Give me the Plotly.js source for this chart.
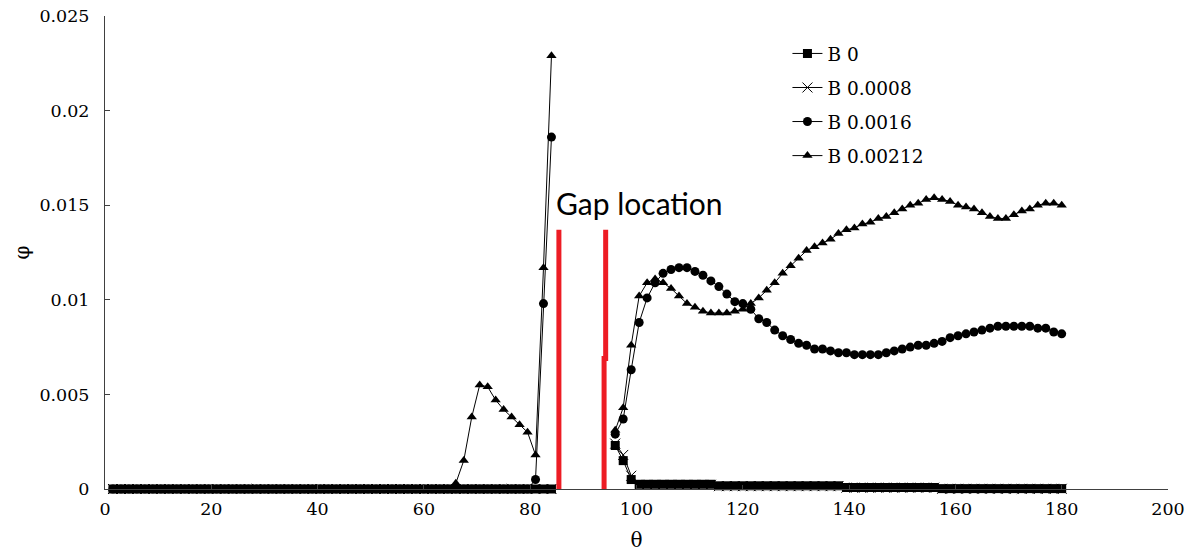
<!DOCTYPE html>
<html>
<head>
<meta charset="utf-8">
<script src="https://cdn.plot.ly/plotly-3.0.1.min.js"></script>
<style>html,body{margin:0;padding:0;background:#fff;}#chart{width:1192px;height:557px;}</style>
</head>
<body>
<div id="chart"></div>
<script>
// theta grid, left of the gap and right of the gap
const thetaLeft = [1.5,3,4.5,6,7.5,9,10.5,12,13.5,15,16.5,18,19.5,21,22.5,24,25.5,27,28.5,30,31.5,33,34.5,36,37.5,39,40.5,42,43.5,45,46.5,48,49.5,51,52.5,54,55.5,57,58.5,60,61.5,63,64.5,66,67.5,69,70.5,72,73.5,75,76.5,78,79.5,81,82.5,84];
const thetaRight = [96,97.5,99,100.5,102,103.5,105,106.5,108,109.5,111,112.5,114,115.5,117,118.5,120,121.5,123,124.5,126,127.5,129,130.5,132,133.5,135,136.5,138,139.5,141,142.5,144,145.5,147,148.5,150,151.5,153,154.5,156,157.5,159,160.5,162,163.5,165,166.5,168,169.5,171,172.5,174,175.5,177,178.5,180];

// B 0
const b0Left = [0,0,0,0,0,0,0,0,0,0,0,0,0,0,0,0,0,0,0,0,0,0,0,0,0,0,0,0,0,0,0,0,0,0,0,0,0,0,0,0,0,0,0,0,0,0,0,0,0,0,0,0,0,0,0,0];
const b0Right = [0.0023,0.0015,0.0005,
  0.00025,0.00025,0.00025,0.00025,0.00025,0.00025,0.00025,0.00025,0.00025,0.00025,
  0.00017,0.00017,0.00017,0.00017,0.00017,0.00017,0.00017,0.00017,0.00017,0.00017,0.00017,0.00017,0.00017,0.00017,0.00017,0.00017,
  0.00008,0.00008,0.00008,0.00008,0.00008,0.00008,0.00008,0.00008,0.00008,0.00008,0.00008,0.00008,
  0.00002,0.00002,0.00002,0.00002,0.00002,0.00002,0.00002,0.00002,0.00002,0.00002,0.00002,0.00002,0.00002,0.00002,0.00002,0.00002];

// B 0.0008
const b1Left = [0,0,0,0,0,0,0,0,0,0,0,0,0,0,0,0,0,0,0,0,0,0,0,0,0,0,0,0,0,0,0,0,0,0,0,0,0,0,0,0,0,0,0,0,0,0,0,0,0,0,0,0,0,0,0,0];
const b1Right = [0.0024,0.0018,0.0007,
  0.00022,0.00022,0.00022,0.00022,0.00022,0.00022,0.00022,0.00022,0.00022,0.00022,
  0.00015,0.00015,0.00015,0.00015,0.00015,0.00015,0.00015,0.00015,0.00015,0.00015,0.00015,0.00015,0.00015,0.00015,0.00015,0.00015,
  0.00007,0.00007,0.00007,0.00007,0.00007,0.00007,0.00007,0.00007,0.00007,0.00007,0.00007,0.00007,
  0.00001,0.00001,0.00001,0.00001,0.00001,0.00001,0.00001,0.00001,0.00001,0.00001,0.00001,0.00001,0.00001,0.00001,0.00001,0.00001];

// B 0.0016
const b2Left = [0,0,0,0,0,0,0,0,0,0,0,0,0,0,0,0,0,0,0,0,0,0,0,0,0,0,0,0,0,0,0,0,0,0,0,0,0,0,0,0,0,0,0,0,0,0,0,0,0,0,0,0,0,0.0005,0.0098,0.0186];
const b2Right = [0.0029,0.0037,0.0063,0.0088,0.0101,0.0109,0.0114,0.0116,0.0117,0.0117,0.0115,0.0113,0.0110,0.0107,0.0103,0.0099,0.0098,0.0095,0.0090,0.0088,0.0084,0.0081,0.0079,0.0077,0.0076,0.0074,0.0074,0.0073,0.0072,0.0072,0.0071,0.0071,0.0071,0.0071,0.0072,0.0073,0.0074,0.0075,0.0076,0.0076,0.0077,0.0078,0.0080,0.0081,0.0082,0.0083,0.0084,0.0085,0.0086,0.0086,0.0086,0.0086,0.0086,0.0085,0.0085,0.0083,0.0082];

// B 0.00212
const b3Left = [0,0,0,0,0,0,0,0,0,0,0,0,0,0,0,0,0,0,0,0,0,0,0,0,0,0,0,0,0,0,0,0,0,0,0,0,0,0,0,0,0,0,0,0.0003,0.0015,0.0038,0.0055,0.0054,0.0047,0.0042,0.0038,0.0034,0.0030,0.0018,0.0117,0.0229];
const b3Right = [0.0031,0.0043,0.0076,0.0102,0.0109,0.0111,0.0109,0.0106,0.0102,0.0098,0.0096,0.0094,0.0093,0.0093,0.0093,0.0094,0.0095,0.0098,0.0101,0.0105,0.0109,0.0114,0.0118,0.0122,0.0126,0.0128,0.0130,0.0132,0.0135,0.0137,0.0138,0.0140,0.0141,0.0143,0.0144,0.0146,0.0148,0.0150,0.0151,0.0153,0.0154,0.0153,0.0152,0.0150,0.0149,0.0148,0.0146,0.0144,0.0143,0.0143,0.0145,0.0147,0.0148,0.0150,0.0151,0.0151,0.0150];

const seriesNames = ['B 0','B 0.0008','B 0.0016','B 0.00212'];
const seriesSymbols = ['square','x-thin-open','circle','triangle-up'];

// red "gap location" marks
const gap1X = [85.4, 85.4];
const gap1Y = [0, 0.0137];
const gap2X = [94.2, 94.2, 93.9, 93.9];
const gap2Y = [0.0137, 0.0069, 0.0069, 0];
const gapLabel = 'Gap location';

const xTicks = [0,20,40,60,80,100,120,140,160,180,200];
const yTicks = [0,0.005,0.01,0.015,0.02,0.025];
const yTickText = ['0','0.005','0.01','0.015','0.02','0.025'];

const gapTheta = 90;
function join(l, r){ return l.concat([null], r); }
const thetaAll = thetaLeft.concat([gapTheta], thetaRight);
const ys = [join(b0Left,b0Right), join(b1Left,b1Right), join(b2Left,b2Right), join(b3Left,b3Right)];
const sizes = [9, 10, 9, 9];

const traces = ys.map((y,i)=>({
  x: thetaAll, y: y, type:'scatter', mode:'lines+markers', name: seriesNames[i],
  legendgroup: 'g'+i, connectgaps:false, cliponaxis:false,
  line:{color:'#000', width:1},
  marker:{symbol: seriesSymbols[i], size: sizes[i], color:'#000', line:{color:'#000', width: i===1?1:0}}
}));
traces.push({x:gap1X, y:gap1Y, type:'scatter', mode:'lines', showlegend:false, hoverinfo:'skip', cliponaxis:false, line:{color:'#ED1C24', width:5}});
traces.push({x:gap2X, y:gap2Y, type:'scatter', mode:'lines', showlegend:false, hoverinfo:'skip', cliponaxis:false, line:{color:'#ED1C24', width:5}});

const serif = 'DejaVu Serif';
const layout = {
  width:1192, height:557,
  margin:{l:105, r:24, t:16, b:68},
  paper_bgcolor:'#fff', plot_bgcolor:'#fff',
  font:{family:serif},
  showlegend:true,
  legend:{x:0.642, y:0.96, xanchor:'left', yanchor:'top', font:{family:serif, size:18.5, color:'#000'}, tracegroupgap:7, bgcolor:'rgba(0,0,0,0)'},
  xaxis:{range:[0,200], tickvals:xTicks, showgrid:false, zeroline:false, showline:true, linecolor:'#404040', linewidth:1,
    ticks:'inside', ticklen:4, tickcolor:'#404040', tickfont:{family:serif, size:17.5, color:'#000'}, ticklabelstandoff:4,
    title:{text:'θ', font:{family:serif, size:20, color:'#000'}, standoff:14}},
  yaxis:{range:[0,0.025], tickvals:yTicks, ticktext:yTickText, showgrid:false, zeroline:false, showline:true, linecolor:'#404040', linewidth:1,
    ticks:'inside', ticklen:5, tickcolor:'#404040', tickfont:{family:serif, size:17.5, color:'#000'}, ticklabelstandoff:11,
    title:{text:'φ', font:{family:serif, size:20, color:'#000'}, standoff:4}},
  annotations:[{x:100.6, y:0.0151, xref:'x', yref:'y', text:gapLabel, showarrow:false, xanchor:'center', yanchor:'middle',
    font:{family:'Lato', size:30, color:'#000'}}]
};
Plotly.newPlot('chart', traces, layout, {displayModeBar:false, staticPlot:true});
</script>
</body>
</html>
